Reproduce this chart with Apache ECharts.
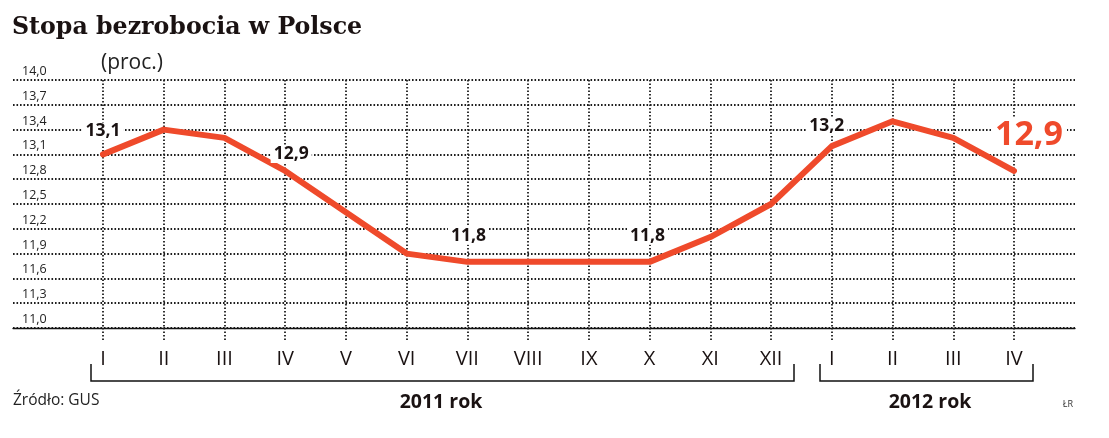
<!DOCTYPE html>
<html>
<head>
<meta charset="utf-8">
<script src="https://cdn.jsdelivr.net/npm/echarts@6/dist/echarts.min.js"></script>
<style>
html,body{margin:0;padding:0;background:#fff;}
#chart{width:1109px;height:438px;}
</style>
</head>
<body>
<div id="chart"></div>
<script>
// ---- data ----
var months = ['I','II','III','IV','V','VI','VII','VIII','IX','X','XI','XII','I','II','III','IV'];
var rates = [13.1, 13.4, 13.3, 12.9, 12.4, 11.9, 11.8, 11.8, 11.8, 11.8, 12.1, 12.5, 13.2, 13.5, 13.3, 12.9];
var labelledIdx = [0, 3, 6, 9, 12, 15];
var yMin = 11.0, yMax = 14.0, yStep = 0.3;
var titleText = 'Stopa bezrobocia w Polsce';
var unitText = '(proc.)';
var sourceText = 'Źródło: GUS';
var yearLabels = ['2011 rok', '2012 rok'];
var authorText = 'ŁR';

// ---- styles ----
var RED = '#ef4a2b';
var INK = '#1a1212';
var dotStyle = {color: '#1e1e1e', width: 1.8, type: [1.6, 1.9]};
var fmt = function (v) { return (+v).toFixed(1).replace('.', ','); };

var labelOffsets = {
  0: [0, -8], 3: [6, -2], 6: [1, -11], 9: [-2, -11], 12: [-5, -5], 15: [15, -12]
};

var seriesData = rates.map(function (v, i) {
  var d = {value: v};
  if (labelledIdx.indexOf(i) >= 0) {
    var last = i === rates.length - 1;
    d.label = {
      show: true, position: 'top', distance: 5,
      offset: labelOffsets[i] || [0, 0],
      formatter: fmt(v),
      fontFamily: 'Open Sans', fontWeight: 'bold',
      fontSize: last ? 34 : 17.5,
      color: last ? RED : INK,
      backgroundColor: '#fff',
      padding: last ? [0, 4] : [0, 3],
      lineHeight: last ? 36 : 18
    };
  }
  return d;
});

var chart = echarts.init(document.getElementById('chart'), null, {renderer: 'canvas'});
chart.setOption({
  animation: false,
  backgroundColor: '#fff',
  title: {
    text: titleText, left: 12, top: 16, padding: 0,
    textStyle: {fontFamily: 'DejaVu Serif', fontWeight: 'bold', fontSize: 23.7, color: INK}
  },
  grid: [
    {left: 103, right: 95, top: 80, bottom: 110},
    {left: 13, right: 34, top: 80, bottom: 110}
  ],
  xAxis: [
    {
      type: 'category', gridIndex: 0, data: months, boundaryGap: false,
      axisLine: {show: false},
      axisTick: {show: true, length: 14, lineStyle: dotStyle},
      splitLine: {show: true, lineStyle: dotStyle},
      axisLabel: {margin: 21, fontFamily: 'Open Sans', fontSize: 20, color: INK, interval: 0}
    },
    {
      type: 'value', gridIndex: 1, min: 0, max: 1,
      axisLine: {show: true, lineStyle: {color: '#111', width: 1.3}},
      axisTick: {show: false}, axisLabel: {show: false}, splitLine: {show: false}
    }
  ],
  yAxis: [
    {
      type: 'value', gridIndex: 0, min: yMin, max: yMax, interval: yStep,
      axisLine: {show: false}, axisTick: {show: false},
      axisLabel: {show: false}, splitLine: {show: false}
    },
    {
      type: 'value', gridIndex: 1, min: yMin, max: yMax, interval: yStep,
      axisLine: {show: false}, axisTick: {show: false},
      splitLine: {show: true, lineStyle: dotStyle},
      axisLabel: {
        inside: true, margin: 9, align: 'left', verticalAlign: 'bottom',
        padding: [0, 0, 2, 0],
        fontFamily: 'Open Sans', fontSize: 12.5, color: '#222',
        formatter: function (v) { return fmt(v); }
      }
    }
  ],
  series: [{
    type: 'line', xAxisIndex: 0, yAxisIndex: 0,
    data: seriesData, symbol: 'circle', symbolSize: 2, showSymbol: true,
    smooth: false, z: 5,
    itemStyle: {color: RED},
    lineStyle: {color: RED, width: 6, join: 'round', cap: 'round'},
    emphasis: {disabled: true}
  }],
  graphic: [
    {type: 'text', left: 101, top: 53, style: {text: unitText, font: '21px "Open Sans"', fill: '#222'}},
    {type: 'text', left: 13, top: 393, style: {text: sourceText, font: '15.5px "Open Sans"', fill: '#222'}},
    {type: 'text', x: 441, y: 402, style: {text: yearLabels[0], font: 'bold 19.5px "Open Sans"', fill: INK, align: 'center', verticalAlign: 'middle'}},
    {type: 'text', x: 930, y: 402, style: {text: yearLabels[1], font: 'bold 19.5px "Open Sans"', fill: INK, align: 'center', verticalAlign: 'middle'}},
    {type: 'text', x: 1068, y: 404, style: {text: authorText, font: '9px "Open Sans"', fill: '#333', align: 'center', verticalAlign: 'middle'}},
    {type: 'polyline', shape: {points: [[91, 364], [91, 381], [794, 381], [794, 364]]}, style: {stroke: '#111', lineWidth: 1.5, fill: null}},
    {type: 'polyline', shape: {points: [[820, 364], [820, 381], [1033, 381], [1033, 364]]}, style: {stroke: '#111', lineWidth: 1.5, fill: null}}
  ]
});
</script>
</body>
</html>
